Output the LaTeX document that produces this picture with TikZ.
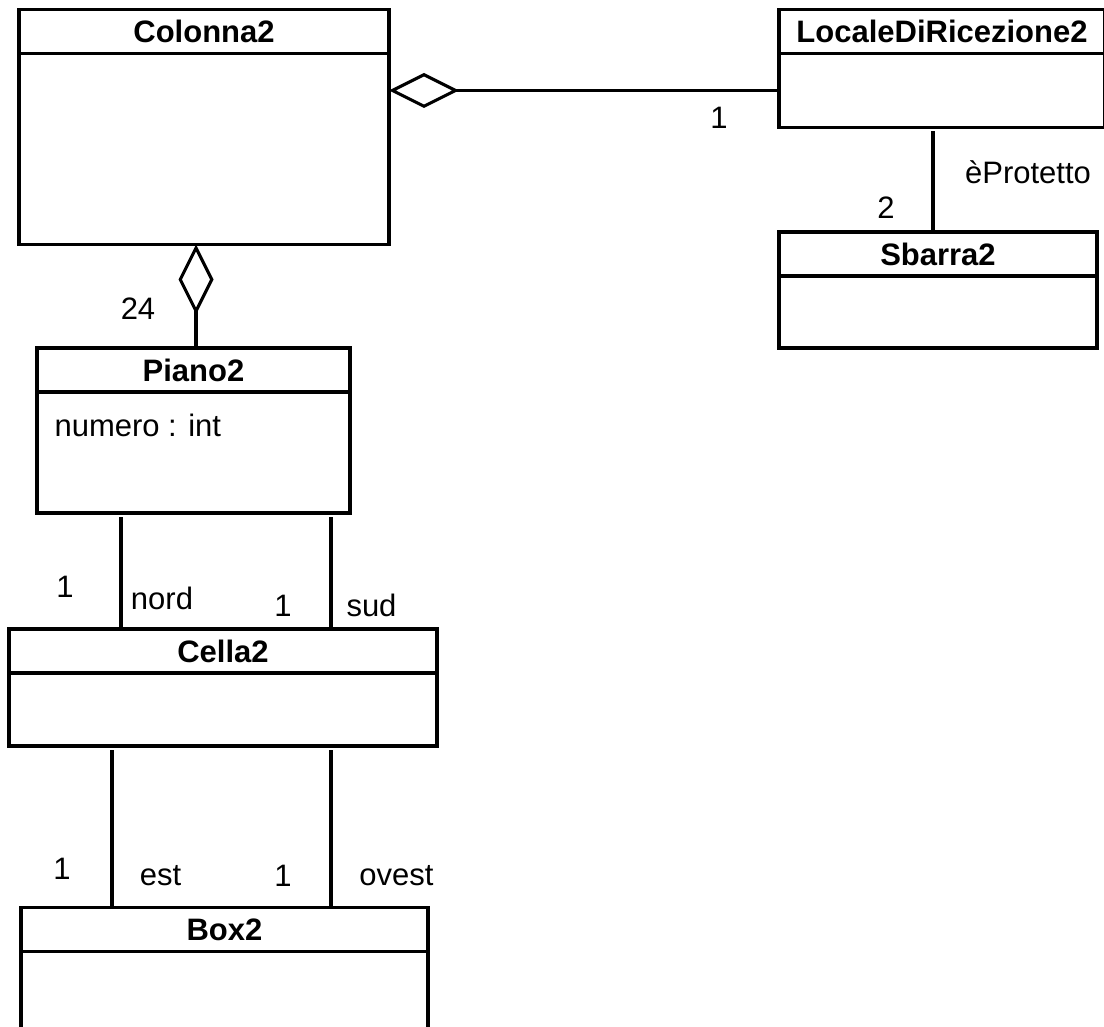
\documentclass[tikz,border=0pt]{standalone}
\usepackage{fontspec}
\setmainfont{Liberation Sans}
\usetikzlibrary{arrows.meta,positioning}

\begin{document}
\begin{tikzpicture}[
  x=1pt,y=-1pt,
  font=\fontsize{31}{37}\selectfont,
  line width=3.1pt,
  clshead/.style={draw,outer sep=0pt,inner sep=0pt,minimum height=44pt,font=\fontsize{31}{37}\selectfont\bfseries},
  clsbody/.style={draw,outer sep=0pt,inner sep=0pt},
  agg/.style={{Diamond[open,length=70pt,width=35pt]}-},
  assoc/.style={shorten <=4pt},
  lab/.style={inner sep=0pt}]
  \useasboundingbox (0,0) rectangle (1104,1027);
  \clip (0,0) rectangle (1104,1027);
  % classes
  \node[clshead,minimum width=370pt] (colonnah) at (204,31.5) {Colonna2};
  \node[clsbody,minimum width=370pt,minimum height=191pt,below=0pt of colonnah] (colonnab) {};
  \node[clshead,minimum width=326pt] (localeh) at (942,31.5) {LocaleDiRicezione2};
  \node[clsbody,minimum width=326pt,minimum height=74pt,below=0pt of localeh] (localeb) {};
  \node[clshead,minimum width=318pt] (sbarrah) at (938,254) {Sbarra2};
  \node[clsbody,minimum width=318pt,minimum height=72pt,below=0pt of sbarrah] (sbarrab) {};
  \node[clshead,minimum width=313pt] (pianoh) at (193.5,370) {Piano2};
  \node[clsbody,minimum width=313pt,minimum height=121pt,below=0pt of pianoh] (pianob) {};
  \node[lab,anchor=base west] (numero) at ([xshift=16pt,yshift=-44pt]pianob.north west) {numero : int};
  \node[clshead,minimum width=428pt] (cellah) at (223,651) {Cella2};
  \node[clsbody,minimum width=428pt,minimum height=73pt,below=0pt of cellah] (cellab) {};
  \node[clshead,minimum width=407pt] (boxh) at (224.5,929.5) {Box2};
  \node[clsbody,minimum width=407pt,minimum height=120pt,below=0pt of boxh] (boxb) {};
  % associations
  \draw[agg] (colonnab.east |- localeb.west) -- (localeb.west)
    node[lab,at end,xshift=-60pt,yshift=-27pt] (m1) {1};
  \draw[agg] ([xshift=2.5pt]colonnab.south -| pianoh.north) -- ([xshift=2.5pt]pianoh.north)
    node[lab,at end,xshift=-58pt,yshift=39pt] (m2) {24};
  \draw[assoc] ([xshift=-9pt]localeb.south) -- ([xshift=-9pt]localeb.south |- sbarrah.north)
    node[lab,at end,xshift=-47pt,yshift=24pt] (m3) {2}
    node[lab,at end,xshift=95pt,yshift=59.5pt] (r1) {èProtetto};
  \draw[assoc] ([xshift=84pt]pianob.south west) -- ([xshift=84pt]pianob.south west |- cellah.north)
    node[lab,at end,xshift=-56pt,yshift=42pt] (m4) {1}
    node[lab,at end,xshift=41pt,yshift=30.5pt] (r2) {nord};
  \draw[assoc] ([xshift=-19pt]pianob.south east) -- ([xshift=-19pt]pianob.south east |- cellah.north)
    node[lab,at end,xshift=-48pt,yshift=23.5pt] (m5) {1}
    node[lab,at end,xshift=40.5pt,yshift=24pt] (r3) {sud};
  \draw[assoc] ([xshift=103pt]cellab.south west) -- ([xshift=103pt]cellab.south west |- boxh.north)
    node[lab,at end,xshift=-50pt,yshift=38.5pt] (m6) {1}
    node[lab,at end,xshift=48.5pt,yshift=32pt] (r4) {est};
  \draw[assoc] ([xshift=-106pt]cellab.south east) -- ([xshift=-106pt]cellab.south east |- boxh.north)
    node[lab,at end,xshift=-48pt,yshift=32pt] (m7) {1}
    node[lab,at end,xshift=65.5pt,yshift=32pt] (r5) {ovest};
\end{tikzpicture}
\end{document}
